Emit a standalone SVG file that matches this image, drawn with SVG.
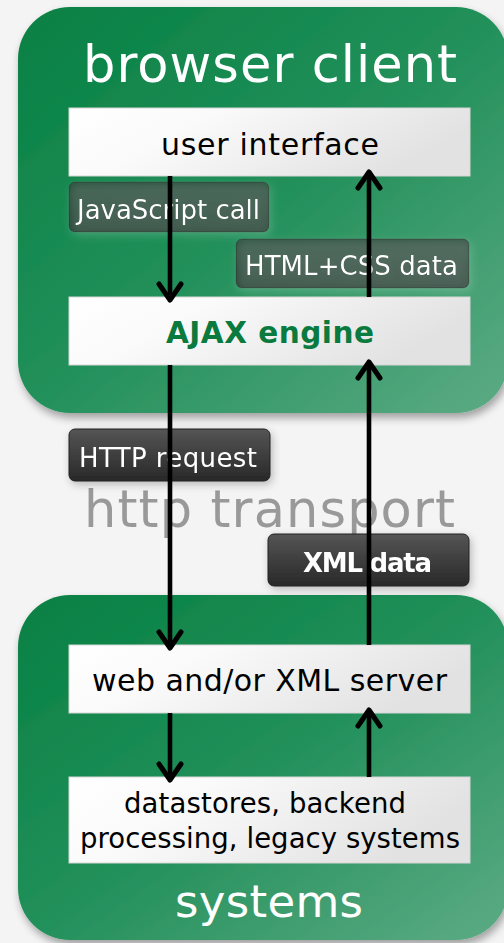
<svg xmlns="http://www.w3.org/2000/svg" width="504" height="943" viewBox="0 0 504 943">
<defs>
<linearGradient id="green" x1="0" y1="0" x2="1" y2="1">
<stop offset="0" stop-color="#078043"/>
<stop offset="0.5" stop-color="#22905a"/>
<stop offset="1" stop-color="#5dab85"/>
</linearGradient>
<linearGradient id="white" x1="0" y1="0" x2="1" y2="0.3">
<stop offset="0" stop-color="#ffffff"/>
<stop offset="0.35" stop-color="#fafafa"/>
<stop offset="1" stop-color="#e2e2e2"/>
</linearGradient>
<linearGradient id="darkT" x1="0" y1="0" x2="0" y2="1">
<stop offset="0" stop-color="#333333" stop-opacity="0.66"/>
<stop offset="1" stop-color="#151515" stop-opacity="0.72"/>
</linearGradient>
<linearGradient id="darkO" x1="0" y1="0" x2="0" y2="1">
<stop offset="0" stop-color="#555555"/>
<stop offset="1" stop-color="#282828"/>
</linearGradient>
<filter id="shadow" x="-10%" y="-10%" width="120%" height="125%">
<feGaussianBlur in="SourceAlpha" stdDeviation="4"/>
<feOffset dx="2" dy="5" result="b"/>
<feComponentTransfer><feFuncA type="linear" slope="0.35"/></feComponentTransfer>
<feMerge><feMergeNode/><feMergeNode in="SourceGraphic"/></feMerge>
</filter>
<filter id="glow" x="-20%" y="-30%" width="140%" height="160%">
<feGaussianBlur in="SourceAlpha" stdDeviation="4"/>
<feOffset dx="2" dy="3"/>
<feComponentTransfer><feFuncA type="linear" slope="0.25"/></feComponentTransfer>
<feMerge><feMergeNode/><feMergeNode in="SourceGraphic"/></feMerge>
</filter>
<filter id="halo" x="-20%" y="-30%" width="140%" height="160%">
<feGaussianBlur in="SourceAlpha" stdDeviation="4"/>
<feOffset dx="2" dy="3" result="o"/>
<feFlood flood-color="#ffffff" flood-opacity="0.25"/>
<feComposite in2="o" operator="in"/>
<feMerge><feMergeNode/><feMergeNode in="SourceGraphic"/></feMerge>
</filter>
</defs>
<style>
.title{font-family:"DejaVu Sans",sans-serif;fill:#ffffff;text-anchor:middle}
.box{fill:url(#white);stroke:#d6d6d6;stroke-width:1}
.btext{font-family:"DejaVu Sans",sans-serif;fill:#000;text-anchor:middle}
.lblT{fill:url(#darkT);stroke:#1a2a22;stroke-opacity:0.5;stroke-width:1}
.lblO{fill:url(#darkO);stroke:#222;stroke-width:1}
.ltext{font-family:"DejaVu Sans",sans-serif;fill:#fff;font-size:26px}
.line{stroke:#000;stroke-width:4.6;fill:none}
.head{stroke:#000;stroke-width:5;fill:none;stroke-linecap:round;stroke-linejoin:round}
</style>
<rect width="504" height="943" fill="#f4f4f4"/>

<g id="browser-client">
<rect x="18" y="7" width="490" height="406" rx="52" fill="url(#green)" filter="url(#shadow)"/>
<text class="title" x="270" y="82" font-size="51" textLength="374" lengthAdjust="spacing">browser client</text>
</g>

<g id="systems-group">
<rect x="18" y="595" width="490" height="345" rx="52" fill="url(#green)" filter="url(#shadow)"/>
<text class="title" x="269" y="917" font-size="45" textLength="188" lengthAdjust="spacing">systems</text>
</g>

<g id="user-interface">
<rect class="box" x="69" y="108" width="401" height="68"/>
<text class="btext" x="270" y="155" font-size="30" textLength="218" lengthAdjust="spacing">user interface</text>
</g>

<g id="ajax-engine">
<rect class="box" x="69" y="297" width="401" height="68"/>
<text class="btext" x="270" y="343" font-size="29.5" font-weight="bold" style="fill:#0a7a3e" textLength="208" lengthAdjust="spacing">AJAX engine</text>
</g>

<g id="web-server">
<rect class="box" x="69" y="645" width="401" height="68"/>
<text class="btext" x="269.5" y="691" font-size="30" textLength="355" lengthAdjust="spacing">web and/or XML server</text>
</g>

<g id="datastores">
<rect class="box" x="69" y="777" width="401" height="86"/>
<text class="btext" x="265" y="813" font-size="27.5" textLength="282" lengthAdjust="spacing">datastores, backend</text>
<text class="btext" x="270" y="848" font-size="27.5" textLength="380" lengthAdjust="spacing">processing, legacy systems</text>
</g>

<g id="http-transport">
<text x="269.5" y="527" font-family="DejaVu Sans, sans-serif" font-size="51" fill="#999999" text-anchor="middle" textLength="371" lengthAdjust="spacing">http transport</text>
</g>

<g id="label-js-call" filter="url(#halo)">
<rect class="lblT" x="69" y="182" width="200" height="50" rx="6"/>
<text class="ltext" x="77" y="219" textLength="183" lengthAdjust="spacing">JavaScript call</text>
</g>

<g id="label-html-css" filter="url(#halo)">
<rect class="lblT" x="236" y="239" width="233" height="49" rx="6"/>
<text class="ltext" x="245" y="275" textLength="213" lengthAdjust="spacing">HTML+CSS data</text>
</g>

<g id="label-http-request" filter="url(#glow)">
<rect class="lblO" x="69" y="429" width="201" height="52" rx="6"/>
<text class="ltext" x="79" y="467" textLength="178" lengthAdjust="spacing">HTTP request</text>
</g>

<g id="label-xml-data" filter="url(#glow)">
<rect class="lblO" x="268" y="534" width="201" height="52" rx="6"/>
<text class="ltext" x="367.5" y="572" font-size="25" font-weight="bold" text-anchor="middle" textLength="129" lengthAdjust="spacing">XML data</text>
</g>

<g id="connectors">
<line class="line" x1="170" y1="176" x2="170" y2="299"/>
<polyline class="head" points="159,284 170,300 181,284"/>
<line class="line" x1="369" y1="297" x2="369" y2="173"/>
<polyline class="head" points="358,188 369,172 380,188"/>
<line class="line" x1="170" y1="365" x2="170" y2="647"/>
<polyline class="head" points="159,632 170,648 181,632"/>
<line class="line" x1="369" y1="645" x2="369" y2="364"/>
<polyline class="head" points="358,378 369,362 380,378"/>
<line class="line" x1="170" y1="713" x2="170" y2="779"/>
<polyline class="head" points="159,764 170,780 181,764"/>
<line class="line" x1="369" y1="777" x2="369" y2="712"/>
<polyline class="head" points="358,726 369,710 380,726"/>
</g>
</svg>
